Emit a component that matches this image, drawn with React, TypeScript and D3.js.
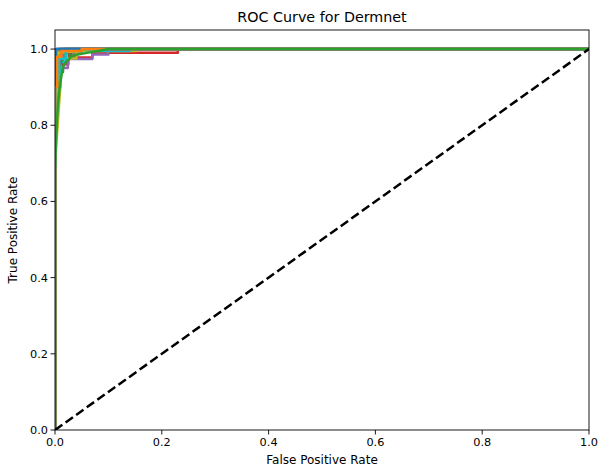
import { useEffect } from "react";
import * as d3 from "d3";

const WIDTH = 600;
const HEIGHT = 466;
const MARGIN = { top: 30, right: 11, bottom: 36, left: 55 };

const COLORS = d3.schemeCategory10;
const X_TICKS = [0, 0.2, 0.4, 0.6, 0.8, 1.0];
const Y_TICKS = [0, 0.2, 0.4, 0.6, 0.8, 1.0];

// one ROC curve per class (23 classes), colours cycle through tab10
const FPR = [
  [0, 0, 0.002, 0.002, 0.008, 0.008, 1],
  [0, 0, 0.003, 0.003, 0.006, 0.006, 0.015, 0.015, 1],
  [0, 0, 0.005, 0.005, 0.012, 0.012, 0.03, 0.03, 1],
  [0, 0, 0.01, 0.01, 0.025, 0.025, 0.07, 0.07, 0.23, 0.23, 1],
  [0, 0, 0.01, 0.01, 0.024, 0.024, 0.07, 0.07, 0.1, 0.1, 1],
  [0, 0, 0.015, 0.015, 0.035, 0.035, 0.1, 0.1, 1],
  [0, 0, 0.01, 0.01, 0.022, 0.022, 1],
  [0, 0, 0.01, 0.01, 0.05, 0.05, 1],
  [0, 0, 0.01, 0.01, 0.04, 0.04, 0.153, 0.153, 1],
  [0, 0, 0.01, 0.01, 0.02, 0.02, 0.14, 0.14, 1],
  [0, 0, 0.003, 0.003, 1],
  [0, 0, 0.005, 0.005, 0.02, 0.02, 1],
  [0, 0, 0.002, 0.004, 0.008, 0.012, 0.018, 0.018, 1],
  [0, 0, 0.006, 0.006, 0.02, 0.02, 1],
  [0, 0, 0.005, 0.005, 0.015, 0.015, 1],
  [0, 0, 0.01, 0.01, 0.03, 0.03, 1],
  [0, 0, 0.004, 0.004, 1],
  [0, 0, 0.008, 0.008, 1],
  [0, 0, 0.003, 0.006, 0.006, 0.09, 0.09, 1],
  [0, 0, 0.008, 0.008, 0.02, 0.02, 1],
  [0, 0, 0.002, 0.002, 1],
  [0, 0, 0.004, 0.004, 0.012, 0.012, 0.05, 0.05, 1],
  [0, 0, 0.002, 0.004, 0.006, 0.008, 0.01, 0.012, 0.014, 0.016, 0.02, 0.025, 0.03, 0.04, 0.06, 0.08, 0.1, 1],
];

const TPR = [
  [0, 0.88, 0.88, 0.99, 0.99, 1, 1],
  [0, 0.8, 0.86, 0.95, 0.95, 0.99, 0.99, 1, 1],
  [0, 0.9, 0.9, 0.96, 0.96, 0.985, 0.985, 1, 1],
  [0, 0.92, 0.92, 0.96, 0.96, 0.978, 0.978, 0.99, 0.99, 1, 1],
  [0, 0.9, 0.9, 0.95, 0.95, 0.974, 0.974, 0.986, 0.986, 1, 1],
  [0, 0.94, 0.94, 0.982, 0.982, 0.996, 0.996, 1, 1],
  [0, 0.93, 0.93, 0.975, 0.975, 1, 1],
  [0, 0.95, 0.95, 0.99, 0.99, 1, 1],
  [0, 0.7, 0.9, 0.975, 0.975, 0.995, 0.995, 1, 1],
  [0, 0.94, 0.94, 0.966, 0.966, 0.995, 0.995, 1, 1],
  [0, 0.97, 0.97, 1, 1],
  [0, 0.9, 0.9, 0.99, 0.99, 1, 1],
  [0, 0.72, 0.82, 0.9, 0.95, 0.97, 0.985, 1, 1],
  [0, 0.95, 0.95, 0.99, 0.99, 1, 1],
  [0, 0.93, 0.93, 0.98, 0.98, 1, 1],
  [0, 0.96, 0.96, 0.99, 0.99, 1, 1],
  [0, 0.96, 0.96, 1, 1],
  [0, 0.97, 0.97, 1, 1],
  [0, 0.75, 0.88, 0.99, 0.99, 1, 1],
  [0, 0.92, 0.92, 0.975, 0.975, 1, 1],
  [0, 0.98, 0.98, 1, 1],
  [0, 0.9, 0.9, 0.98, 0.98, 0.995, 0.995, 1, 1],
  [0, 0.68, 0.76, 0.82, 0.86, 0.89, 0.91, 0.93, 0.945, 0.955, 0.965, 0.972, 0.98, 0.985, 0.99, 0.995, 1, 1],
];

const FONT = "DejaVu Sans, sans-serif";

export default function App() {
  useEffect(() => {
    document.body.style.margin = "0";
  }, []);

  const boundsWidth = WIDTH - MARGIN.left - MARGIN.right;
  const boundsHeight = HEIGHT - MARGIN.top - MARGIN.bottom;

  const xScale = d3.scaleLinear().domain([0, 1]).range([0, boundsWidth]);
  const yScale = d3.scaleLinear().domain([0, 1.05]).range([boundsHeight, 0]);

  const line = d3
    .line<[number, number]>()
    .x((d) => xScale(d[0]))
    .y((d) => yScale(d[1]));

  const curves = FPR.map((fpr, i) => {
    const pts = fpr.map((f, j) => [f, TPR[i][j]] as [number, number]);
    return (
      <path
        key={i}
        d={line(pts) || ""}
        fill="none"
        stroke={COLORS[i % 10]}
        strokeWidth={2.5}
        strokeLinejoin="round"
      />
    );
  });

  return (
    <svg width={WIDTH} height={HEIGHT} style={{ display: "block" }}>
      <rect width={WIDTH} height={HEIGHT} fill="#ffffff" />
      <text
        x={MARGIN.left + boundsWidth / 2}
        y={22}
        textAnchor="middle"
        fontFamily={FONT}
        fontSize={14.3}
      >
        ROC Curve for Dermnet
      </text>
      <g transform={`translate(${MARGIN.left},${MARGIN.top})`}>
        <defs>
          <clipPath id="plotclip">
            <rect width={boundsWidth} height={boundsHeight} />
          </clipPath>
        </defs>
        <g clipPath="url(#plotclip)">
          {curves}
          <path
            d={line([[0, 0], [1, 1]]) || ""}
            fill="none"
            stroke="#000000"
            strokeWidth={2.5}
            strokeDasharray="9,4"
          />
        </g>
        <rect
          width={boundsWidth}
          height={boundsHeight}
          fill="none"
          stroke="#000000"
          strokeWidth={0.9}
        />
        {X_TICKS.map((t) => (
          <g key={"x" + t} transform={`translate(${xScale(t)},${boundsHeight})`}>
            <line y2={4.5} stroke="#000" strokeWidth={0.9} />
            <text y={16} textAnchor="middle" fontFamily={FONT} fontSize={11.3}>
              {t.toFixed(1)}
            </text>
          </g>
        ))}
        {Y_TICKS.map((t) => (
          <g key={"y" + t} transform={`translate(0,${yScale(t)})`}>
            <line x2={-4.5} stroke="#000" strokeWidth={0.9} />
            <text x={-7} dy="0.35em" textAnchor="end" fontFamily={FONT} fontSize={11.3}>
              {t.toFixed(1)}
            </text>
          </g>
        ))}
        <text
          x={boundsWidth / 2}
          y={boundsHeight + 34}
          textAnchor="middle"
          fontFamily={FONT}
          fontSize={12}
        >
          False Positive Rate
        </text>
        <text
          transform={`translate(${-38},${boundsHeight / 2}) rotate(-90)`}
          textAnchor="middle"
          fontFamily={FONT}
          fontSize={12}
        >
          True Positive Rate
        </text>
      </g>
    </svg>
  );
}
